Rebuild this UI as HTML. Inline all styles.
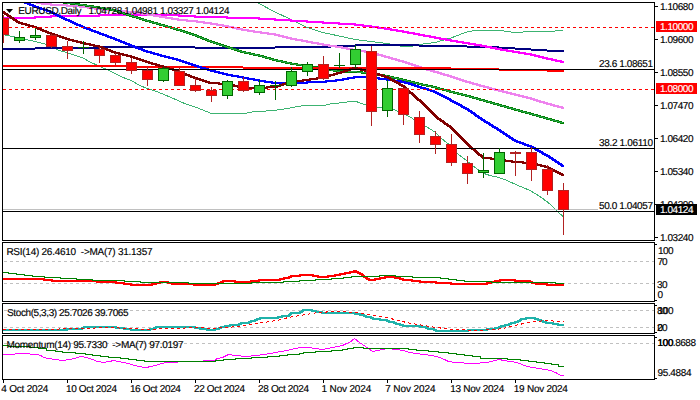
<!DOCTYPE html>
<html><head><meta charset="utf-8"><title>EURUSD,Daily</title>
<style>html,body{margin:0;padding:0;background:#fff;overflow:hidden}svg{display:block}text{white-space:pre;text-rendering:geometricPrecision;stroke:currentColor;stroke-width:0.15px;font-family:"Liberation Sans",Arial,sans-serif;font-size:10px;fill:#000}</style></head><body>
<svg width="700" height="400" viewBox="0 0 700 400">
<rect x="0" y="0" width="700" height="400" fill="#fff"/>
<defs><clipPath id="cm"><rect x="3" y="3" width="651" height="237"/></clipPath><clipPath id="cr"><rect x="3" y="243" width="651" height="58"/></clipPath><clipPath id="cs"><rect x="3" y="304" width="651" height="29"/></clipPath><clipPath id="cmo"><rect x="3" y="336" width="651" height="43"/></clipPath></defs>
<g clip-path="url(#cm)">
<polyline points="243,-4 259,3.5 275,12 291,19.5 307,27.5 323,32.5 339,36 355,39.5 371,41.5 387,43.5 403,46.5 411,46.5 419,44.5 435,42.5 451,38 460,34.5 467,32 475,30.5 483,30 499,30 507,31.5 515,32.5 531,31.5 547,31.5 555,31 563,30.5" fill="none" stroke="#3CB371" stroke-width="1" shape-rendering="crispEdges"/>
<polyline points="3,34.5 19,37.8 28,40 35,41.5 45,44 58,50 68,53 83,58 90,62 99,66 111,71.5 122,77 131,80.5 140,85.5 147,88.5 155,91 163,94 171,97.5 179,101 187,104.5 195,107 203,110 210,113 247,113 255,111.5 266,111 280,109.7 300,106.2 305,105.4 325,105.4 330,104 345,102.3 353,101.3 357,101.8 366,105 378,107.5 394,109.5 410,117 426,126.5 435,132 442,139 448,143.5 458,154 467,161 475,167.5 484,173.5 490,175.5 499,177.5 507,180.5 517,185 530,190.5 540,196.5 550,204 557,211 563,216.5" fill="none" stroke="#3CB371" stroke-width="1" shape-rendering="crispEdges"/>
<g shape-rendering="crispEdges"><rect x="3" y="48" width="32" height="2" fill="#000080"/><rect x="35" y="47" width="64" height="2" fill="#000080"/><rect x="99" y="46" width="96" height="2" fill="#000080"/><rect x="195" y="47" width="80" height="2" fill="#000080"/><rect x="275" y="46" width="56" height="2" fill="#000080"/><rect x="331" y="45" width="24" height="2" fill="#000080"/><rect x="355" y="44" width="64" height="2" fill="#000080"/><rect x="419" y="45" width="48" height="2" fill="#000080"/><rect x="467" y="46" width="32" height="2" fill="#000080"/><rect x="499" y="47" width="16" height="2" fill="#000080"/><rect x="515" y="48" width="16" height="2" fill="#000080"/><rect x="531" y="49" width="16" height="2" fill="#000080"/><rect x="547" y="50" width="17" height="2" fill="#000080"/></g>
<path d="M2,17 L20,17 L20,19 L2,19Z M18,17 L34,16.5 L36,16.5 L36,18.5 L20,19 L18,19Z M34,16.5 L50,15.5 L52,15.5 L52,17.5 L36,18.5 L34,18.5Z M50,15.5 L66,15 L68,15 L68,17 L52,17.5 L50,17.5Z M66,15 L82,14.5 L84,14.5 L84,16.5 L68,17 L66,17Z M82,14.5 L100,14.5 L100,16.5 L82,16.5Z M98,14.5 L114,14 L116,14 L116,16 L100,16.5 L98,16.5Z M114,14 L132,14 L132,16 L114,16Z M130,14 L148,14 L148,16 L130,16Z M146,14 L164,14 L164,16 L146,16Z M162,14 L164,14 L180,14.5 L180,16.5 L178,16.5 L162,16Z M178,14.5 L180,14.5 L196,15.5 L196,17.5 L194,17.5 L178,16.5Z M194,15.5 L196,15.5 L212,16 L212,18 L210,18 L194,17.5Z M210,16 L212,16 L228,16.5 L228,18.5 L226,18.5 L210,18Z M226,16.5 L228,16.5 L244,17 L244,19 L242,19 L226,18.5Z M242,17 L244,17 L260,17.5 L260,19.5 L258,19.5 L242,19Z M258,17.5 L260,17.5 L276,18.5 L276,20.5 L274,20.5 L258,19.5Z M274,18.5 L276,18.5 L292,19.5 L292,21.5 L290,21.5 L274,20.5Z M290,19.5 L292,19.5 L308,20.5 L308,22.5 L306,22.5 L290,21.5Z M306,20.5 L308,20.5 L324,21.5 L324,23.5 L322,23.5 L306,22.5Z M322,21.5 L324,21.5 L340,22.5 L340,24.5 L338,24.5 L322,23.5Z M338,22.5 L340,22.5 L356,23.5 L356,25.5 L354,25.5 L338,24.5Z M354,23.5 L356,23.5 L372,25.5 L372,27.5 L370,27.5 L354,25.5Z M370,25.5 L372,25.5 L388,27.75 L388,29.75 L386,29.75 L370,27.5Z M386,27.75 L388,27.75 L404,30.5 L404,32.5 L402,32.5 L386,29.75Z M402,30.5 L404,30.5 L420,33.5 L420,35.5 L418,35.5 L402,32.5Z M418,33.5 L420,33.5 L436,36.5 L436,38.5 L434,38.5 L418,35.5Z M434,36.5 L436,36.5 L452,39.5 L452,41.5 L450,41.5 L434,38.5Z M450,39.5 L452,39.5 L468,42.25 L468,44.25 L466,44.25 L450,41.5Z M466,42.25 L468,42.25 L484,44.75 L484,46.75 L482,46.75 L466,44.25Z M482,44.75 L484,44.75 L500,48.25 L500,50.25 L498,50.25 L482,46.75Z M498,48.25 L500,48.25 L516,50.75 L516,52.75 L514,52.75 L498,50.25Z M514,50.75 L516,50.75 L532,53.5 L532,55.5 L530,55.5 L514,52.75Z M530,53.5 L532,53.5 L548,57.5 L548,59.5 L546,59.5 L530,55.5Z M546,57.5 L548,57.5 L564,61 L564,63 L562,63 L546,59.5Z" fill="#FF00FF" shape-rendering="crispEdges"/>
<path d="M18,-2 L20,-2 L36,1 L36,3 L34,3 L18,0Z M34,1 L36,1 L43,2.5 L43,4.5 L41,4.5 L34,3Z M41,2.5 L43,2.5 L52,3.5 L52,5.5 L50,5.5 L41,4.5Z M50,3.5 L52,3.5 L68,4.5 L68,6.5 L66,6.5 L50,5.5Z M66,4.5 L68,4.5 L84,5.75 L84,7.75 L82,7.75 L66,6.5Z M82,5.75 L84,5.75 L100,8 L100,10 L98,10 L82,7.75Z M98,8 L100,8 L116,9.5 L116,11.5 L114,11.5 L98,10Z M114,9.5 L116,9.5 L132,11 L132,13 L130,13 L114,11.5Z M130,11 L132,11 L148,13.25 L148,15.25 L146,15.25 L130,13Z M146,13.25 L148,13.25 L164,16 L164,18 L162,18 L146,15.25Z M162,16 L164,16 L180,18.75 L180,20.75 L178,20.75 L162,18Z M178,18.75 L180,18.75 L196,20.25 L196,22.25 L194,22.25 L178,20.75Z M194,20.25 L196,20.25 L212,22.5 L212,24.5 L210,24.5 L194,22.25Z M210,22.5 L212,22.5 L228,25.25 L228,27.25 L226,27.25 L210,24.5Z M226,25.25 L228,25.25 L244,28.75 L244,30.75 L242,30.75 L226,27.25Z M242,28.75 L244,28.75 L260,31.25 L260,33.25 L258,33.25 L242,30.75Z M258,31.25 L260,31.25 L276,33.5 L276,35.5 L274,35.5 L258,33.25Z M274,33.5 L276,33.5 L292,37.5 L292,39.5 L290,39.5 L274,35.5Z M290,37.5 L292,37.5 L308,40.5 L308,42.5 L306,42.5 L290,39.5Z M306,40.5 L308,40.5 L324,43.5 L324,45.5 L322,45.5 L306,42.5Z M322,43.5 L324,43.5 L340,46 L340,48 L338,48 L322,45.5Z M338,46 L340,46 L356,49 L356,51 L354,51 L338,48Z M354,49 L356,49 L372,51.5 L372,53.5 L370,53.5 L354,51Z M370,51.5 L372,51.5 L388,56 L388,58 L386,58 L370,53.5Z M386,56 L388,56 L404,60.5 L404,62.5 L402,62.5 L386,58Z M402,60.5 L404,60.5 L420,66 L420,68 L418,68 L402,62.5Z M418,66 L420,66 L436,70.75 L436,72.75 L434,72.75 L418,68Z M434,70.75 L436,70.75 L452,75.5 L452,77.5 L450,77.5 L434,72.75Z M450,75.5 L452,75.5 L468,80.75 L468,82.75 L466,82.75 L450,77.5Z M466,80.75 L468,80.75 L484,85.25 L484,87.25 L482,87.25 L466,82.75Z M482,85.25 L484,85.25 L500,89.6 L500,91.6 L498,91.6 L482,87.25Z M498,89.6 L500,89.6 L516,93.4 L516,95.4 L514,95.4 L498,91.6Z M514,93.4 L516,93.4 L532,97.6 L532,99.6 L530,99.6 L514,95.4Z M530,97.6 L532,97.6 L548,102.5 L548,104.5 L546,104.5 L530,99.6Z M546,102.5 L548,102.5 L564,106.9 L564,108.9 L562,108.9 L546,104.5Z" fill="#EE82EE" shape-rendering="crispEdges"/>
<path d="M34,-5 L36,-5 L52,-1 L52,1 L50,1 L34,-3Z M50,-1 L52,-1 L68,2 L68,4 L66,4 L50,1Z M66,2 L68,2 L84,4 L84,6 L82,6 L66,4Z M82,4 L84,4 L100,6.5 L100,8.5 L98,8.5 L82,6Z M98,6.5 L100,6.5 L116,9.5 L116,11.5 L114,11.5 L98,8.5Z M114,9.5 L116,9.5 L132,14.75 L132,16.75 L130,16.75 L114,11.5Z M130,14.75 L132,14.75 L148,19.75 L148,21.75 L146,21.75 L130,16.75Z M146,19.75 L148,19.75 L164,24.25 L164,26.25 L162,26.25 L146,21.75Z M162,24.25 L164,24.25 L180,29 L180,31 L178,31 L162,26.25Z M178,29 L180,29 L196,34.25 L196,36.25 L194,36.25 L178,31Z M194,34.25 L196,34.25 L212,40.5 L212,42.5 L210,42.5 L194,36.25Z M210,40.5 L212,40.5 L228,46 L228,48 L226,48 L210,42.5Z M226,46 L228,46 L244,51 L244,53 L242,53 L226,48Z M242,51 L244,51 L260,54.5 L260,56.5 L258,56.5 L242,53Z M258,54.5 L260,54.5 L276,59 L276,61 L274,61 L258,56.5Z M274,59 L276,59 L292,62.5 L292,64.5 L290,64.5 L274,61Z M290,62.5 L292,62.5 L308,65 L308,67 L306,67 L290,64.5Z M306,65 L308,65 L324,67.5 L324,69.5 L322,69.5 L306,67Z M322,67.5 L324,67.5 L340,70.4 L340,72.4 L338,72.4 L322,69.5Z M338,70.4 L340,70.4 L356,70.75 L356,72.75 L354,72.75 L338,72.4Z M354,70.75 L356,70.75 L372,72.5 L372,74.5 L370,74.5 L354,72.75Z M370,72.5 L372,72.5 L388,75 L388,77 L386,77 L370,74.5Z M386,75 L388,75 L404,78.75 L404,80.75 L402,80.75 L386,77Z M402,78.75 L404,78.75 L420,82.75 L420,84.75 L418,84.75 L402,80.75Z M418,82.75 L420,82.75 L436,86.25 L436,88.25 L434,88.25 L418,84.75Z M434,86.25 L436,86.25 L452,90.75 L452,92.75 L450,92.75 L434,88.25Z M450,90.75 L452,90.75 L468,94.75 L468,96.75 L466,96.75 L450,92.75Z M466,94.75 L468,94.75 L484,99.3 L484,101.3 L482,101.3 L466,96.75Z M482,99.3 L484,99.3 L500,103.9 L500,105.9 L498,105.9 L482,101.3Z M498,103.9 L500,103.9 L516,108.4 L516,110.4 L514,110.4 L498,105.9Z M514,108.4 L516,108.4 L532,112.9 L532,114.9 L530,114.9 L514,110.4Z M530,112.9 L532,112.9 L548,117.5 L548,119.5 L546,119.5 L530,114.9Z M546,117.5 L548,117.5 L564,122 L564,124 L562,124 L546,119.5Z" fill="#008000" shape-rendering="crispEdges"/>
<polyline points="35,-4 51,0 67,3 83,5 99,7.5 115,10.5 131,15.75 147,20.75 163,25.25 179,30 195,35.25 211,41.5 227,47 243,52 259,55.5 275,60 291,63.5 307,66 323,68.5 339,71.4 355,71.75 371,73.5 387,76 403,79.75 419,83.75 435,87.25 451,91.75 467,95.75 483,100.3 499,104.9 515,109.4 531,113.9 547,118.5 563,123" fill="none" stroke="#3CB371" stroke-width="0.7" shape-rendering="crispEdges"/>
<g shape-rendering="crispEdges"><rect x="3" y="65" width="128" height="2" fill="#FF0000"/><rect x="131" y="66" width="112" height="2" fill="#FF0000"/><rect x="243" y="67" width="208" height="2" fill="#FF0000"/><rect x="451" y="68" width="48" height="2" fill="#FF0000"/><rect x="499" y="69" width="48" height="2" fill="#FF0000"/><rect x="547" y="70" width="17" height="2" fill="#FF0000"/></g>
<path d="M2,-7 L4,-7 L20,-1 L20,1 L18,1 L2,-5Z M18,-1 L20,-1 L36,5.5 L36,7.5 L34,7.5 L18,1Z M34,5.5 L36,5.5 L52,11 L52,13 L50,13 L34,7.5Z M50,11 L52,11 L68,18.75 L68,20.75 L66,20.75 L50,13Z M66,18.75 L68,18.75 L84,26 L84,28 L82,28 L66,20.75Z M82,26 L84,26 L100,32 L100,34 L98,34 L82,28Z M98,32 L100,32 L116,38 L116,40 L114,40 L98,34Z M114,38 L116,38 L132,44.5 L132,46.5 L130,46.5 L114,40Z M130,44.5 L132,44.5 L148,50.5 L148,52.5 L146,52.5 L130,46.5Z M146,50.5 L148,50.5 L164,55 L164,57 L162,57 L146,52.5Z M162,55 L164,55 L180,59 L180,61 L178,61 L162,57Z M178,59 L180,59 L196,64.5 L196,66.5 L194,66.5 L178,61Z M194,64.5 L196,64.5 L212,69.5 L212,71.5 L210,71.5 L194,66.5Z M210,69.5 L212,69.5 L228,73.5 L228,75.5 L226,75.5 L210,71.5Z M226,73.5 L228,73.5 L244,76.5 L244,78.5 L242,78.5 L226,75.5Z M242,76.5 L244,76.5 L260,79.5 L260,81.5 L258,81.5 L242,78.5Z M258,79.5 L260,79.5 L269,81 L269,83 L267,83 L258,81.5Z M267,81 L269,81 L276,82 L276,84 L274,84 L267,83Z M274,82 L292,82 L292,84 L274,84Z M290,82 L306,81.5 L308,81.5 L308,83.5 L292,84 L290,84Z M306,81.5 L322,80.75 L324,80.75 L324,82.75 L308,83.5 L306,83.5Z M322,80.75 L338,79.25 L340,79.25 L340,81.25 L324,82.75 L322,82.75Z M338,79.25 L354,76.25 L356,76.25 L356,78.25 L340,81.25 L338,81.25Z M354,76.25 L356,76.25 L372,76.5 L372,78.5 L370,78.5 L354,78.25Z M370,76.5 L372,76.5 L388,78.5 L388,80.5 L386,80.5 L370,78.5Z M386,78.5 L388,78.5 L404,80.75 L404,82.75 L402,82.75 L386,80.5Z M402,80.75 L404,80.75 L420,85.75 L420,87.75 L418,87.75 L402,82.75Z M418,85.75 L420,85.75 L436,90.75 L436,92.75 L434,92.75 L418,87.75Z M434,90.75 L436,90.75 L452,99.25 L452,101.25 L450,101.25 L434,92.75Z M450,99.25 L452,99.25 L468,108 L468,110 L466,110 L450,101.25Z M466,108 L468,108 L484,119 L484,121 L482,121 L466,110Z M482,119 L484,119 L500,129 L500,131 L498,131 L482,121Z M498,129 L500,129 L516,139.75 L516,141.75 L514,141.75 L498,131Z M514,139.75 L516,139.75 L532,145.5 L532,147.5 L530,147.5 L514,141.75Z M530,145.5 L532,145.5 L548,154.5 L548,156.5 L546,156.5 L530,147.5Z M546,154.5 L548,154.5 L564,165 L564,167 L562,167 L546,156.5Z" fill="#0000FF" shape-rendering="crispEdges"/>
<path d="M2,10.9 L4,10.9 L20,21.6 L20,23.6 L18,23.6 L2,12.9Z M18,21.6 L20,21.6 L36,26.1 L36,28.1 L34,28.1 L18,23.6Z M34,26.1 L36,26.1 L52,32.5 L52,34.5 L50,34.5 L34,28.1Z M50,32.5 L52,32.5 L68,38 L68,40 L66,40 L50,34.5Z M66,38 L68,38 L84,42 L84,44 L82,44 L66,40Z M82,42 L84,42 L100,45.5 L100,47.5 L98,47.5 L82,44Z M98,45.5 L100,45.5 L116,51.5 L116,53.5 L114,53.5 L98,47.5Z M114,51.5 L116,51.5 L132,55.5 L132,57.5 L130,57.5 L114,53.5Z M130,55.5 L132,55.5 L148,61 L148,63 L146,63 L130,57.5Z M146,61 L148,61 L164,65.5 L164,67.5 L162,67.5 L146,63Z M162,65.5 L164,65.5 L180,70.5 L180,72.5 L178,72.5 L162,67.5Z M178,70.5 L180,70.5 L196,77 L196,79 L194,79 L178,72.5Z M194,77 L196,77 L212,82 L212,84 L210,84 L194,79Z M210,82 L212,82 L228,83 L228,85 L226,85 L210,84Z M226,83 L228,83 L244,86.5 L244,88.5 L242,88.5 L226,85Z M242,86.5 L244,86.5 L260,87 L260,89 L258,89 L242,88.5Z M258,87 L274,86 L276,86 L276,88 L260,89 L258,89Z M274,86 L290,81 L292,81 L292,83 L276,88 L274,88Z M290,81 L306,79 L308,79 L308,81 L292,83 L290,83Z M306,79 L322,76.5 L324,76.5 L324,78.5 L308,81 L306,81Z M322,76.5 L338,72 L340,72 L340,74 L324,78.5 L322,78.5Z M338,72 L354,67 L356,67 L356,69 L340,74 L338,74Z M354,67 L356,67 L372,71 L372,73 L370,73 L354,69Z M370,71 L372,71 L388,76 L388,78 L386,78 L370,73Z M386,76 L388,76 L404,85 L404,87 L402,87 L386,78Z M402,85 L404,85 L420,99 L420,101 L418,101 L402,87Z M418,99 L420,99 L436,115 L436,117 L434,117 L418,101Z M434,115 L436,115 L452,126.5 L452,128.5 L450,128.5 L434,117Z M450,126.5 L452,126.5 L468,143 L468,145 L466,145 L450,128.5Z M466,143 L468,143 L484,156.5 L484,158.5 L482,158.5 L466,145Z M482,156.5 L484,156.5 L500,158.5 L500,160.5 L498,160.5 L482,158.5Z M498,158.5 L500,158.5 L516,161 L516,163 L514,163 L498,160.5Z M514,161 L516,161 L532,162 L532,164 L530,164 L514,163Z M530,162 L532,162 L548,166 L548,168 L546,168 L530,164Z M546,166 L548,166 L564,174 L564,176 L562,176 L546,168Z" fill="#800000" shape-rendering="crispEdges"/>
<g shape-rendering="crispEdges">
<line x1="3" y1="27.5" x2="654" y2="27.5" stroke="#FF0000" stroke-width="1" stroke-dasharray="3,3"/>
<line x1="3" y1="89.5" x2="654" y2="89.5" stroke="#FF0000" stroke-width="1" stroke-dasharray="3,3"/>
<rect x="3" y="209" width="651" height="1" fill="#C0C0C0"/>
<rect x="3" y="69" width="651" height="1" fill="#000"/>
<rect x="3" y="148" width="651" height="1" fill="#000"/>
<rect x="3" y="211" width="651" height="1" fill="#000"/>
</g>
<rect x="598" y="57" width="56" height="11" fill="#fff" shape-rendering="crispEdges"/>
<text x="599.0" y="67"  textLength="54.0" lengthAdjust="spacing">23.6 1.08651</text>
<rect x="598" y="136" width="56" height="11" fill="#fff" shape-rendering="crispEdges"/>
<text x="599.0" y="146"  textLength="54.0" lengthAdjust="spacing">38.2 1.06110</text>
<rect x="598" y="199" width="56" height="11" fill="#fff" shape-rendering="crispEdges"/>
<text x="599.0" y="209"  textLength="54.0" lengthAdjust="spacing">50.0 1.04057</text>
<g shape-rendering="crispEdges"><rect x="3" y="15" width="1" height="28" fill="#B22222"/><rect x="-2" y="18" width="11" height="17" fill="#B22222"/><rect x="-1" y="19" width="9" height="15" fill="#FF0000"/><rect x="19" y="31" width="1" height="12" fill="#006400"/><rect x="14" y="37" width="11" height="4" fill="#006400"/><rect x="15" y="38" width="9" height="2" fill="#32CD32"/><rect x="35" y="28" width="1" height="12" fill="#006400"/><rect x="30" y="35" width="11" height="3" fill="#006400"/><rect x="31" y="36" width="9" height="1" fill="#32CD32"/><rect x="51" y="34" width="1" height="14" fill="#B22222"/><rect x="46" y="35" width="11" height="12" fill="#B22222"/><rect x="47" y="36" width="9" height="10" fill="#FF0000"/><rect x="67" y="41" width="1" height="18" fill="#B22222"/><rect x="62" y="46" width="11" height="5" fill="#B22222"/><rect x="63" y="47" width="9" height="3" fill="#FF0000"/><rect x="83" y="41" width="1" height="13" fill="#006400"/><rect x="78" y="47" width="11" height="1" fill="#006400"/><rect x="99" y="47" width="1" height="16" fill="#B22222"/><rect x="94" y="49" width="11" height="7" fill="#B22222"/><rect x="95" y="50" width="9" height="5" fill="#FF0000"/><rect x="115" y="53" width="1" height="13" fill="#B22222"/><rect x="110" y="55" width="11" height="8" fill="#B22222"/><rect x="111" y="56" width="9" height="6" fill="#FF0000"/><rect x="131" y="58" width="1" height="16" fill="#B22222"/><rect x="126" y="62" width="11" height="9" fill="#B22222"/><rect x="127" y="63" width="9" height="7" fill="#FF0000"/><rect x="147" y="66" width="1" height="20" fill="#B22222"/><rect x="142" y="70" width="11" height="10" fill="#B22222"/><rect x="143" y="71" width="9" height="8" fill="#FF0000"/><rect x="163" y="67" width="1" height="15" fill="#006400"/><rect x="158" y="68" width="11" height="13" fill="#006400"/><rect x="159" y="69" width="9" height="11" fill="#32CD32"/><rect x="179" y="67" width="1" height="19" fill="#B22222"/><rect x="174" y="71" width="11" height="15" fill="#B22222"/><rect x="175" y="72" width="9" height="13" fill="#FF0000"/><rect x="195" y="78" width="1" height="14" fill="#B22222"/><rect x="190" y="85" width="11" height="6" fill="#B22222"/><rect x="191" y="86" width="9" height="4" fill="#FF0000"/><rect x="211" y="87" width="1" height="15" fill="#B22222"/><rect x="206" y="90" width="11" height="6" fill="#B22222"/><rect x="207" y="91" width="9" height="4" fill="#FF0000"/><rect x="227" y="80" width="1" height="19" fill="#006400"/><rect x="222" y="81" width="11" height="15" fill="#006400"/><rect x="223" y="82" width="9" height="13" fill="#32CD32"/><rect x="243" y="77" width="1" height="15" fill="#B22222"/><rect x="238" y="81" width="11" height="10" fill="#B22222"/><rect x="239" y="82" width="9" height="8" fill="#FF0000"/><rect x="259" y="80" width="1" height="15" fill="#006400"/><rect x="254" y="85" width="11" height="8" fill="#006400"/><rect x="255" y="86" width="9" height="6" fill="#32CD32"/><rect x="275" y="81" width="1" height="19" fill="#006400"/><rect x="270" y="85" width="11" height="1" fill="#006400"/><rect x="291" y="67" width="1" height="20" fill="#006400"/><rect x="286" y="71" width="11" height="15" fill="#006400"/><rect x="287" y="72" width="9" height="13" fill="#32CD32"/><rect x="307" y="62" width="1" height="14" fill="#006400"/><rect x="302" y="64" width="11" height="8" fill="#006400"/><rect x="303" y="65" width="9" height="6" fill="#32CD32"/><rect x="323" y="56" width="1" height="24" fill="#B22222"/><rect x="318" y="64" width="11" height="15" fill="#B22222"/><rect x="319" y="65" width="9" height="13" fill="#FF0000"/><rect x="339" y="53" width="1" height="15" fill="#006400"/><rect x="334" y="65" width="11" height="1" fill="#006400"/><rect x="355" y="45" width="1" height="23" fill="#006400"/><rect x="350" y="49" width="11" height="16" fill="#006400"/><rect x="351" y="50" width="9" height="14" fill="#32CD32"/><rect x="371" y="46" width="1" height="80" fill="#B22222"/><rect x="366" y="51" width="11" height="61" fill="#B22222"/><rect x="367" y="52" width="9" height="59" fill="#FF0000"/><rect x="387" y="80" width="1" height="37" fill="#006400"/><rect x="382" y="88" width="11" height="23" fill="#006400"/><rect x="383" y="89" width="9" height="21" fill="#32CD32"/><rect x="403" y="88" width="1" height="37" fill="#B22222"/><rect x="398" y="88" width="11" height="27" fill="#B22222"/><rect x="399" y="89" width="9" height="25" fill="#FF0000"/><rect x="419" y="111" width="1" height="32" fill="#B22222"/><rect x="414" y="117" width="11" height="18" fill="#B22222"/><rect x="415" y="118" width="9" height="16" fill="#FF0000"/><rect x="435" y="131" width="1" height="23" fill="#B22222"/><rect x="430" y="136" width="11" height="9" fill="#B22222"/><rect x="431" y="137" width="9" height="7" fill="#FF0000"/><rect x="451" y="134" width="1" height="32" fill="#B22222"/><rect x="446" y="144" width="11" height="19" fill="#B22222"/><rect x="447" y="145" width="9" height="17" fill="#FF0000"/><rect x="467" y="156" width="1" height="28" fill="#B22222"/><rect x="462" y="163" width="11" height="11" fill="#B22222"/><rect x="463" y="164" width="9" height="9" fill="#FF0000"/><rect x="483" y="153" width="1" height="25" fill="#006400"/><rect x="478" y="170" width="11" height="3" fill="#006400"/><rect x="479" y="171" width="9" height="1" fill="#32CD32"/><rect x="499" y="148" width="1" height="26" fill="#006400"/><rect x="494" y="152" width="11" height="22" fill="#006400"/><rect x="495" y="153" width="9" height="20" fill="#32CD32"/><rect x="515" y="151" width="1" height="25" fill="#B22222"/><rect x="510" y="152" width="11" height="2" fill="#B22222"/><rect x="531" y="147" width="1" height="34" fill="#B22222"/><rect x="526" y="152" width="11" height="18" fill="#B22222"/><rect x="527" y="153" width="9" height="16" fill="#FF0000"/><rect x="547" y="165" width="1" height="30" fill="#B22222"/><rect x="542" y="169" width="11" height="22" fill="#B22222"/><rect x="543" y="170" width="9" height="20" fill="#FF0000"/><rect x="563" y="183" width="1" height="52" fill="#B22222"/><rect x="558" y="190" width="11" height="20" fill="#B22222"/><rect x="559" y="191" width="9" height="18" fill="#FF0000"/></g>
</g>
<path d="M6,9 L13,9 L9.5,13 Z" fill="#000"/>
<text x="18.25" y="14"  textLength="63.25" lengthAdjust="spacing">EURUSD,Daily</text>
<text x="88.5" y="14"  textLength="141" lengthAdjust="spacing">1.04728 1.04981 1.03327 1.04124</text>
<g clip-path="url(#cr)">
<g shape-rendering="crispEdges">
<line x1="4" y1="261.5" x2="654" y2="261.5" stroke="#C0C0C0" stroke-width="1" stroke-dasharray="3,3"/>
<line x1="4" y1="283.5" x2="654" y2="283.5" stroke="#C0C0C0" stroke-width="1" stroke-dasharray="3,3"/>
</g>
<path d="M2,278 L43,278 L43,280 L2,280Z M41,278 L43,278 L47,279 L47,281 L45,281 L41,280Z M45,279 L51,279 L51,281 L45,281Z M49,279 L51,279 L55,280 L55,282 L53,282 L49,281Z M53,280 L96,280 L96,282 L53,282Z M94,280 L96,280 L100,281 L100,283 L98,283 L94,282Z M98,281 L115,281 L115,283 L98,283Z M113,281 L115,281 L119,282 L119,284 L117,284 L113,283Z M117,282 L123,282 L123,284 L117,284Z M121,282 L123,282 L127,283 L127,285 L125,285 L121,284Z M125,283 L130,283 L130,285 L125,285Z M128,283 L130,283 L134,284 L134,286 L132,286 L128,285Z M132,284 L151,284 L151,286 L132,286Z M149,284 L153,283 L155,283 L155,285 L151,286 L149,286Z M153,283 L157,282 L159,282 L159,284 L155,285 L153,285Z M157,282 L161,281 L163,281 L163,283 L159,284 L157,284Z M161,281 L167,281 L167,283 L161,283Z M165,281 L167,281 L171,282 L171,284 L169,284 L165,283Z M169,282 L171,282 L175,283 L175,285 L173,285 L169,284Z M173,283 L193,283 L193,285 L173,285Z M191,283 L193,283 L197,284 L197,286 L195,286 L191,285Z M195,284 L214,284 L214,286 L195,286Z M212,284 L215.5,283 L217.5,283 L217.5,285 L214,286 L212,286Z M215.5,283 L219,282 L221,282 L221,284 L217.5,285 L215.5,285Z M219,282 L223,280 L225,280 L225,282 L221,284 L219,284Z M223,280 L234,280 L234,282 L223,282Z M232,280 L234,280 L238,281 L238,283 L236,283 L232,282Z M236,281 L250,281 L250,283 L236,283Z M248,281 L252,280 L254,280 L254,282 L250,283 L248,283Z M252,280 L258,280 L258,282 L252,282Z M256,280 L260,279 L262,279 L262,281 L258,282 L256,282Z M260,279 L279,279 L279,281 L260,281Z M277,279 L281,278 L283,278 L283,280 L279,281 L277,281Z M281,278 L285,277 L287,277 L287,279 L283,280 L281,280Z M285,277 L289,277 L289,279 L285,279Z M287,277 L291,275 L293,275 L293,277 L289,279 L287,279Z M291,275 L299,275 L299,277 L291,277Z M297,275 L301,274 L303,274 L303,276 L299,277 L297,277Z M301,274 L312,274 L312,276 L301,276Z M310,274 L312,274 L316.5,275 L316.5,277 L314.5,277 L310,276Z M314.5,275 L316.5,275 L321,276 L321,278 L319,278 L314.5,277Z M319,276 L327,276 L327,278 L319,278Z M325,276 L329,275 L331,275 L331,277 L327,278 L325,278Z M329,275 L334,275 L334,277 L329,277Z M332,275 L336.5,274 L338.5,274 L338.5,276 L334,277 L332,277Z M336.5,274 L341.5,273 L343.5,273 L343.5,275 L338.5,276 L336.5,276Z M341.5,273 L346.5,272 L348.5,272 L348.5,274 L343.5,275 L341.5,275Z M346.5,272 L350.5,271 L352.5,271 L352.5,273 L348.5,274 L346.5,274Z M350.5,271 L354.5,270 L356.5,270 L356.5,272 L352.5,273 L350.5,273Z M354.5,270 L356.5,270 L360,272 L360,274 L358,274 L354.5,272Z M358,272 L360,272 L362,273 L362,275 L360,275 L358,274Z M360,273 L362,273 L364.5,275 L364.5,277 L362.5,277 L360,275Z M362.5,275 L364.5,275 L367.5,277 L367.5,279 L365.5,279 L362.5,277Z M365.5,277 L367.5,277 L371,279 L371,281 L369,281 L365.5,279Z M369,279 L374,279 L374,281 L369,281Z M372,279 L376.5,278 L378.5,278 L378.5,280 L374,281 L372,281Z M376.5,278 L381.5,277 L383.5,277 L383.5,279 L378.5,280 L376.5,280Z M381.5,277 L386,276 L388,276 L388,278 L383.5,279 L381.5,279Z M386,276 L394,276 L394,278 L386,278Z M392,276 L394,276 L398.5,277 L398.5,279 L396.5,279 L392,278Z M396.5,277 L398.5,277 L402.5,278 L402.5,280 L400.5,280 L396.5,279Z M400.5,278 L402.5,278 L406,279 L406,281 L404,281 L400.5,280Z M404,279 L411,279 L411,281 L404,281Z M409,279 L411,279 L415,280 L415,282 L413,282 L409,281Z M413,280 L419,280 L419,282 L413,282Z M417,280 L419,280 L423,281 L423,283 L421,283 L417,282Z M421,281 L435,281 L435,283 L421,283Z M433,281 L435,281 L439,282 L439,284 L437,284 L433,283Z M437,282 L450,282 L450,284 L437,284Z M448,282 L450,282 L454,283 L454,285 L452,285 L448,284Z M452,283 L486,283 L486,285 L452,285Z M484,283 L488,282 L490,282 L490,284 L486,285 L484,285Z M488,282 L492,281 L494,281 L494,283 L490,284 L488,284Z M492,281 L496.5,280 L498.5,280 L498.5,282 L494,283 L492,283Z M496.5,280 L501,279 L503,279 L503,281 L498.5,282 L496.5,282Z M501,279 L514,279 L514,281 L501,281Z M512,279 L514,279 L518,280 L518,282 L516,282 L512,281Z M516,280 L530,280 L530,282 L516,282Z M528,280 L530,280 L534.5,282 L534.5,284 L532.5,284 L528,282Z M532.5,282 L534.5,282 L539,283 L539,285 L537,285 L532.5,284Z M537,283 L546,283 L546,285 L537,285Z M544,283 L546,283 L550,284 L550,286 L548,286 L544,285Z M548,284 L564,284 L564,286 L548,286Z" fill="#FF0000" shape-rendering="crispEdges"/>
<path d="M3,272.5H8V273.5H16V274.5H24V275.5H32V276.5H44V277.5H60V278.5H76V279.5H92V280.5H124V281.5H140V282.5H188V283.5H251V282.5H283V281.5H299V280.5H315V279.5H331V278.5H343V277.5H351V276.5H379V275.5H395V276.5H412V277.5H440V278.5H448V279.5H456V280.5H464V281.5H491V282.5H555V283.5H564" fill="none" stroke="#008000" stroke-width="1" shape-rendering="crispEdges"/>
</g>
<text x="6.4" y="255"  textLength="146.1" lengthAdjust="spacing">RSI(14) 26.4610  -&gt;MA(7) 31.1357</text>
<g clip-path="url(#cs)">
<g shape-rendering="crispEdges">
<line x1="4" y1="310.5" x2="654" y2="310.5" stroke="#C0C0C0" stroke-width="1" stroke-dasharray="3,3"/>
<line x1="4" y1="327.5" x2="654" y2="327.5" stroke="#C0C0C0" stroke-width="1" stroke-dasharray="3,3"/>
</g>
<path d="M2,329 L66,329 L66,331 L2,331Z M64,329 L68,328 L70,328 L70,330 L66,331 L64,331Z M68,328 L82,328 L82,330 L68,330Z M80,328 L84,326 L86,326 L86,328 L82,330 L80,330Z M84,326 L115,326 L115,328 L84,328Z M113,326 L115,326 L119,327 L119,329 L117,329 L113,328Z M117,327 L123,327 L123,329 L117,329Z M121,327 L123,327 L127,328 L127,330 L125,330 L121,329Z M125,328 L130,328 L130,330 L125,330Z M128,328 L130,328 L134,329 L134,331 L132,331 L128,330Z M132,329 L149,329 L149,331 L132,331Z M147,329 L151.5,328 L153.5,328 L153.5,330 L149,331 L147,331Z M151.5,328 L156,326 L158,326 L158,328 L153.5,330 L151.5,330Z M156,326 L194,326 L194,328 L156,328Z M192,326 L194,326 L198.5,327 L198.5,329 L196.5,329 L192,328Z M196.5,327 L198.5,327 L203,328 L203,330 L201,330 L196.5,329Z M201,328 L206,328 L206,330 L201,330Z M204,328 L206,328 L210,329 L210,331 L208,331 L204,330Z M208,329 L214,329 L214,331 L208,331Z M212,329 L216.5,328 L218.5,328 L218.5,330 L214,331 L212,331Z M216.5,328 L221.5,326 L223.5,326 L223.5,328 L218.5,330 L216.5,330Z M221.5,326 L226.5,325 L228.5,325 L228.5,327 L223.5,328 L221.5,328Z M226.5,325 L231,324 L233,324 L233,326 L228.5,327 L226.5,327Z M231,324 L239,324 L239,326 L231,326Z M237,324 L241,322 L243,322 L243,324 L239,326 L237,326Z M241,322 L249,322 L249,324 L241,324Z M247,322 L251,320 L253,320 L253,322 L249,324 L247,324Z M251,320 L255,320 L255,322 L251,322Z M253,320 L257,318 L259,318 L259,320 L255,322 L253,322Z M257,318 L261,317 L263,317 L263,319 L259,320 L257,320Z M261,317 L277,317 L277,319 L261,319Z M275,317 L279,316 L281,316 L281,318 L277,319 L275,319Z M279,316 L283,315 L285,315 L285,317 L281,318 L279,318Z M283,315 L289,315 L289,317 L283,317Z M287,315 L291,312 L293,312 L293,314 L289,317 L287,317Z M291,312 L299,312 L299,314 L291,314Z M297,312 L300,311 L302,311 L302,313 L299,314 L297,314Z M300,311 L303,309 L305,309 L305,311 L302,313 L300,313Z M303,309 L311,309 L311,311 L303,311Z M309,309 L311,309 L315,310 L315,312 L313,312 L309,311Z M313,310 L315,310 L319,311 L319,313 L317,313 L313,312Z M317,311 L321,311 L321,313 L317,313Z M319,311 L321,311 L325,312 L325,314 L323,314 L319,313Z M323,312 L354,312 L354,314 L323,314Z M352,312 L354,312 L358.5,313 L358.5,315 L356.5,315 L352,314Z M356.5,313 L358.5,313 L363.5,314 L363.5,316 L361.5,316 L356.5,315Z M361.5,314 L363.5,314 L368,316 L368,318 L366,318 L361.5,316Z M366,316 L371,316 L371,318 L366,318Z M369,316 L371,316 L375,318 L375,320 L373,320 L369,318Z M373,318 L379,318 L379,320 L373,320Z M377,318 L379,318 L383,319 L383,321 L381,321 L377,320Z M381,319 L387,319 L387,321 L381,321Z M385,319 L387,319 L391,321 L391,323 L389,323 L385,321Z M389,321 L394,321 L394,323 L389,323Z M392,321 L394,321 L398.5,323 L398.5,325 L396.5,325 L392,323Z M396.5,323 L398.5,323 L402.5,324 L402.5,326 L400.5,326 L396.5,325Z M400.5,324 L402.5,324 L406,325 L406,327 L404,327 L400.5,326Z M404,325 L419,325 L419,327 L404,327Z M417,325 L419,325 L423,326 L423,328 L421,328 L417,327Z M421,326 L426,326 L426,328 L421,328Z M424,326 L426,326 L430,328 L430,330 L428,330 L424,328Z M428,328 L434,328 L434,330 L428,330Z M432,328 L434,328 L438,330 L438,332 L436,332 L432,330Z M436,330 L467,330 L467,332 L436,332Z M465,330 L469,329 L471,329 L471,331 L467,332 L465,332Z M469,329 L486,329 L486,331 L469,331Z M484,329 L488,328 L490,328 L490,330 L486,331 L484,331Z M488,328 L494,328 L494,330 L488,330Z M492,328 L496.5,327 L498.5,327 L498.5,329 L494,330 L492,330Z M496.5,327 L501.5,325 L503.5,325 L503.5,327 L498.5,329 L496.5,329Z M501.5,325 L506.5,324 L508.5,324 L508.5,326 L503.5,327 L501.5,327Z M506.5,324 L511.5,322 L513.5,322 L513.5,324 L508.5,326 L506.5,326Z M511.5,322 L516.5,321 L518.5,321 L518.5,323 L513.5,324 L511.5,324Z M516.5,321 L521,318 L523,318 L523,320 L518.5,323 L516.5,323Z M521,318 L525,318 L525,320 L521,320Z M523,318 L527,317 L529,317 L529,319 L525,320 L523,320Z M527,317 L534,317 L534,319 L527,319Z M532,317 L534,317 L537.5,318 L537.5,320 L535.5,320 L532,319Z M535.5,318 L537.5,318 L540.5,319 L540.5,321 L538.5,321 L535.5,320Z M538.5,319 L540.5,319 L544.5,321 L544.5,323 L542.5,323 L538.5,321Z M542.5,321 L544.5,321 L549,322 L549,324 L547,324 L542.5,323Z M547,322 L552,322 L552,324 L547,324Z M550,322 L552,322 L556.5,323 L556.5,325 L554.5,325 L550,324Z M554.5,323 L556.5,323 L561,324 L561,326 L559,326 L554.5,325Z M559,324 L564,324 L564,326 L559,326Z" fill="#20B2AA" shape-rendering="crispEdges"/>
<polyline points="3,329.5 36.5,329.5 82.5,328.5 107.5,327.5 130,328.5 145,329.5 172.5,328.5 197.5,327.5 210,328.5 225,327.5 240,326.5 252.5,324.5 257.5,323.5 263.5,322.5 270,321.5 276,320.5 282,319.5 288,317.5 294,316.5 300,315.5 306,314.5 312,313.5 318,312.5 335.5,311.5 356,312.5 364.5,313.5 370,314.5 376,315.5 382,316.5 388,317.5 394,319.5 400,320.5 406,322.5 412,323.5 418,324.5 424,325.5 430,326.5 436,327.5 445,328.5 454,329.5 475,330.5 496,329.5 502,328.5 508,327.5 514,325.5 520,324.5 526,322.5 535,321.5 547.5,320.5 559,321.5 564,321.5" fill="none" stroke="#FF0000" stroke-width="1" stroke-dasharray="3,3" shape-rendering="crispEdges"/>
</g>
<text x="7.1" y="316"  textLength="121.4" lengthAdjust="spacing">Stoch(5,3,3) 25.7026 39.7065</text>
<g clip-path="url(#cmo)">
<line x1="4" y1="343.5" x2="654" y2="343.5" stroke="#C0C0C0" stroke-width="1" stroke-dasharray="3,3" shape-rendering="crispEdges"/>
<polyline points="3,354.5 6.5,354.5 23,353.5 37.5,354.5 40.5,355.5 44,357.5 48,358.5 55,359.5 63.5,360.5 69.5,359.5 74.5,358.5 80.5,356.5 87,357.5 92.5,359.5 97.5,361.5 103.5,362.5 109,361.5 114,360.5 118.5,361.5 124,362.5 131.5,364.5 139,366.5 145.5,367.5 151.5,366.5 158.5,364.5 166,362.5 191.5,361.5 214,360.5 217.5,358.5 222.5,357.5 228.5,354.5 236,355.5 245.5,356.5 256.5,355.5 264.5,354.5 270,353.5 275.5,352.5 281.5,351.5 287.5,350.5 294.5,348.5 301,347.5 307.5,347.5 316,348.5 322.5,349.5 327.5,348.5 332.5,347.5 337.5,346.5 342.5,345.5 346.5,343.5 349.5,342.5 352,340.5 354.5,338.5 357,340.5 359.5,342.5 362.5,344.5 365.5,346.5 368.5,348.5 372.5,351.5 377.5,350.5 382.5,349.5 388.5,348.5 396,349.5 403,350.5 410,352.5 416,353.5 423,354.5 432.5,355.5 439.5,357.5 444.5,359.5 448.5,361.5 455,362.5 472.5,363.5 487.5,362.5 491,361.5 494.5,360.5 499,359.5 504,360.5 510.5,361.5 517,362.5 522,364.5 527,366.5 539,368.5 550.5,370.5 555.5,372.5 561,375.5 564,375.5" fill="none" stroke="#FF00FF" stroke-width="1" shape-rendering="crispEdges"/>
<path d="M3,345.5H8V346.5H30V347.5H38V348.5H46V350.5H55V351.5H62V352.5H75V353.5H85V354.5H92V355.5H100V356.5H108V357.5H120V358.5H128V359.5H136V360.5H144V361.5H215V360.5H223V359.5H235V358.5H251V357.5H267V356.5H279V355.5H287V354.5H299V353.5H303V352.5H315V351.5H331V350.5H342V349.5H347V348.5H353V347.5H363V348.5H400V348.5H408V349.5H416V350.5H428V351.5H438V352.5H448V353.5H456V354.5H464V355.5H472V356.5H480V358.5H507V359.5H520V360.5H528V361.5H536V362.5H544V363.5H551V364.5H558V366.5H564" fill="none" stroke="#008000" stroke-width="1" shape-rendering="crispEdges"/>
</g>
<text x="6.5" y="347.5"  textLength="177" lengthAdjust="spacing">Momentum(14) 95.7330  -&gt;MA(7) 97.0197</text>
<g shape-rendering="crispEdges"><rect x="2" y="2" width="653" height="1" fill="#000"/><rect x="2" y="240" width="653" height="1" fill="#000"/><rect x="2" y="2" width="1" height="239" fill="#000"/><rect x="654" y="2" width="1" height="239" fill="#000"/><rect x="2" y="242" width="653" height="1" fill="#000"/><rect x="2" y="301" width="653" height="1" fill="#000"/><rect x="2" y="242" width="1" height="60" fill="#000"/><rect x="654" y="242" width="1" height="60" fill="#000"/><rect x="2" y="303" width="653" height="1" fill="#000"/><rect x="2" y="333" width="653" height="1" fill="#000"/><rect x="2" y="303" width="1" height="31" fill="#000"/><rect x="654" y="303" width="1" height="31" fill="#000"/><rect x="2" y="335" width="653" height="1" fill="#000"/><rect x="2" y="379" width="653" height="1" fill="#000"/><rect x="2" y="335" width="1" height="45" fill="#000"/><rect x="654" y="335" width="1" height="45" fill="#000"/></g>
<g shape-rendering="crispEdges"><rect x="655" y="6" width="3" height="1" fill="#000"/><rect x="655" y="39" width="3" height="1" fill="#000"/><rect x="655" y="72" width="3" height="1" fill="#000"/><rect x="655" y="105" width="3" height="1" fill="#000"/><rect x="655" y="138" width="3" height="1" fill="#000"/><rect x="655" y="171" width="3" height="1" fill="#000"/><rect x="655" y="204" width="3" height="1" fill="#000"/><rect x="655" y="237" width="3" height="1" fill="#000"/></g>
<text x="660.0" y="10"  textLength="33.5" lengthAdjust="spacing">1.10680</text><text x="660.0" y="43"  textLength="33.5" lengthAdjust="spacing">1.09600</text><text x="660.0" y="76"  textLength="33.5" lengthAdjust="spacing">1.08550</text><text x="660.0" y="109"  textLength="33.5" lengthAdjust="spacing">1.07470</text><text x="660.0" y="142"  textLength="33.5" lengthAdjust="spacing">1.06420</text><text x="660.0" y="175"  textLength="33.5" lengthAdjust="spacing">1.05340</text><text x="660.0" y="208"  textLength="33.5" lengthAdjust="spacing">1.04290</text><text x="660.0" y="241"  textLength="33.5" lengthAdjust="spacing">1.03240</text>
<g shape-rendering="crispEdges"><rect x="656" y="21" width="41" height="11" fill="#FF0000"/><rect x="656" y="83" width="41" height="11" fill="#FF0000"/><rect x="656" y="204" width="41" height="11" fill="#000"/></g>
<text x="660.0" y="30" style="fill:#fff;stroke:#fff" textLength="33.5" lengthAdjust="spacing">1.10000</text>
<text x="660.0" y="92" style="fill:#fff;stroke:#fff" textLength="33.5" lengthAdjust="spacing">1.08000</text>
<text x="660.0" y="213" style="fill:#fff;stroke:#fff" textLength="33.5" lengthAdjust="spacing">1.04124</text>
<text x="658.0" y="254"  textLength="15.5" lengthAdjust="spacing">100</text><text x="657.5" y="265"  textLength="10" lengthAdjust="spacing">70</text><text x="657.0" y="288"  textLength="10.5" lengthAdjust="spacing">30</text><text x="657.5" y="298"  textLength="6" lengthAdjust="spacing">0</text><text x="658.0" y="314"  textLength="15.5" lengthAdjust="spacing">100</text><text x="657.0" y="314"  textLength="10.5" lengthAdjust="spacing">80</text><text x="657.0" y="331"  textLength="10.5" lengthAdjust="spacing">20</text><text x="657.5" y="331"  textLength="6" lengthAdjust="spacing">0</text><text x="657.5" y="346"  textLength="38.5" lengthAdjust="spacing">100.8688</text><text x="657.5" y="346"  textLength="16" lengthAdjust="spacing">100</text><text x="657.5" y="376"  textLength="34" lengthAdjust="spacing">95.4884</text>
<g shape-rendering="crispEdges"><rect x="655" y="244" width="2" height="1" fill="#000"/><rect x="655" y="300" width="2" height="1" fill="#000"/><rect x="655" y="305" width="2" height="1" fill="#000"/><rect x="655" y="332" width="2" height="1" fill="#000"/><rect x="655" y="337" width="2" height="1" fill="#000"/><rect x="655" y="378" width="2" height="1" fill="#000"/></g>
<g shape-rendering="crispEdges"><rect x="3" y="380" width="1" height="3" fill="#000"/><rect x="67" y="380" width="1" height="3" fill="#000"/><rect x="131" y="380" width="1" height="3" fill="#000"/><rect x="195" y="380" width="1" height="3" fill="#000"/><rect x="259" y="380" width="1" height="3" fill="#000"/><rect x="323" y="380" width="1" height="3" fill="#000"/><rect x="387" y="380" width="1" height="3" fill="#000"/><rect x="451" y="380" width="1" height="3" fill="#000"/><rect x="515" y="380" width="1" height="3" fill="#000"/></g>
<text x="1.2" y="392"  textLength="47.2" lengthAdjust="spacing">4 Oct 2024</text><text x="65.9" y="392"  textLength="51.2" lengthAdjust="spacing">10 Oct 2024</text><text x="129.9" y="392"  textLength="51.0" lengthAdjust="spacing">16 Oct 2024</text><text x="194.0" y="392"  textLength="51.0" lengthAdjust="spacing">22 Oct 2024</text><text x="258.0" y="392"  textLength="51.1" lengthAdjust="spacing">28 Oct 2024</text><text x="321.6" y="392"  textLength="49.6" lengthAdjust="spacing">1 Nov 2024</text><text x="385.2" y="392"  textLength="50.3" lengthAdjust="spacing">7 Nov 2024</text><text x="450.2" y="392"  textLength="54.0" lengthAdjust="spacing">13 Nov 2024</text><text x="513.8" y="392"  textLength="54.1" lengthAdjust="spacing">19 Nov 2024</text>
</svg></body></html>
